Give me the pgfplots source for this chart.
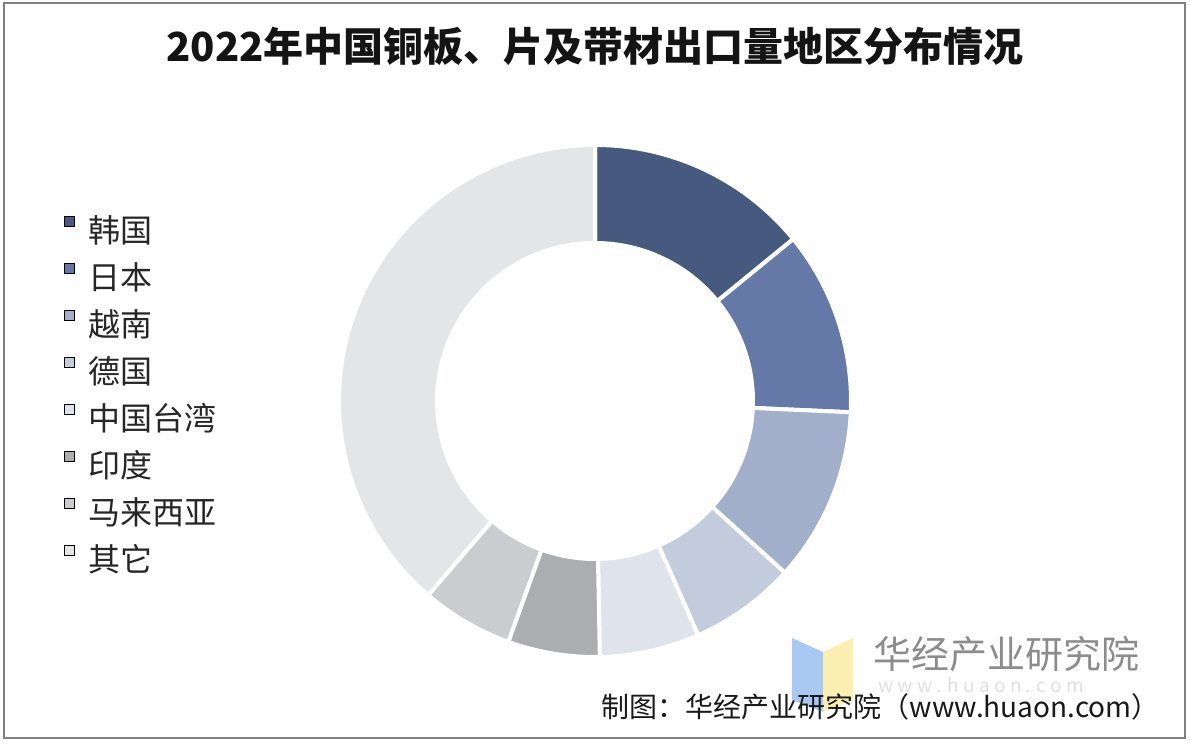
\documentclass[border=0pt]{standalone}
\usepackage{fontspec}
\setmainfont{Noto Sans CJK SC}
\usepackage{pgfplots}
\usepackage{pgfplotstable}
\pgfplotsset{compat=1.18}

\definecolor{cKR}{HTML}{465A80}
\definecolor{cJP}{HTML}{6479A7}
\definecolor{cVN}{HTML}{A2AFCB}
\definecolor{cDE}{HTML}{C3CCDD}
\definecolor{cTW}{HTML}{DFE3EB}
\definecolor{cIN}{HTML}{ABADB1}
\definecolor{cMY}{HTML}{CACCD0}
\definecolor{cOT}{HTML}{E3E5E7}
\definecolor{frame}{HTML}{808080}
\definecolor{logoblue}{HTML}{A9C8F2}
\definecolor{logoyellow}{HTML}{FCF0B0}

% share of export volume, %, read off the ring
\pgfplotstableread{
region share colour
韩国 14.1 cKR
日本 11.6 cJP
越南 11.0 cVN
德国 6.7 cDE
中国台湾 6.3 cTW
印度 5.8 cIN
马来西亚 5.8 cMY
其它 38.7 cOT
}\sharetable

\begin{document}
\begin{tikzpicture}
% build the ring segments and legend entries from the table
\gdef\donut{}%
\gdef\legendlist{}%
\gdef\cum{0}%
\pgfplotstablegetrowsof{\sharetable}%
\pgfmathtruncatemacro\lastrow{\pgfplotsretval-1}%
\pgfplotsforeachungrouped \i in {0,...,\lastrow}{%
  \pgfplotstablegetelem{\i}{share}\of\sharetable
  \pgfmathsetmacro\sa{90-3.6*\cum}%
  \pgfmathsetmacro\newcum{\cum+\pgfplotsretval}%
  \pgfmathsetmacro\sb{90-3.6*\newcum}%
  \xdef\cum{\newcum}%
  \pgfplotstablegetelem{\i}{colour}\of\sharetable
  \let\segcol\pgfplotsretval
  \pgfplotstablegetelem{\i}{region}\of\sharetable
  \let\segname\pgfplotsretval
  \xdef\donut{\unexpanded\expandafter{\donut}%
    \noexpand\fill[\segcol, draw=white, line width=2pt]
      ([shift={(\sa:128pt)}]axis cs:595,347)
      arc[start angle=\sa, end angle=\sb, radius=128pt]
      -- ([shift={(\sb:79pt)}]axis cs:595,347)
      arc[start angle=\sb, end angle=\sa, radius=79pt] -- cycle;}%
  \xdef\legendlist{\unexpanded\expandafter{\legendlist}%
    \noexpand\addlegendimage{fill=\segcol}%
    \noexpand\addlegendentry{\segname}}%
}%
\begin{axis}[
    x=0.5pt, y=0.5pt,
    xmin=0, xmax=1190, ymin=0, ymax=748,
    scale only axis,
    hide axis,
    clip=false,
    legend image code/.code={\fill (0pt,3.4pt) rectangle (5pt,8.4pt);},
    legend cell align=left,
    legend style={
        at={(axis cs:64,532)}, anchor=north west,
        draw=none, fill=none, inner sep=0pt,
        font=\fontsize{16}{19}\selectfont, text=black!85,
        row sep=7.6pt,
        nodes={inner sep=0pt, text height=11.6pt, text depth=3pt},
        /tikz/every odd column/.append style={column sep=6.5pt},
    },
]
\path (axis cs:0,0) rectangle (axis cs:1190,748);
\draw[frame, line width=0.8pt] (axis cs:4,745) rectangle (axis cs:1185,10);

\donut
\legendlist

% title
\node[font=\fontsize{20}{24}\selectfont\bfseries, text=black!92]
    at (axis cs:595,702) {2022年中国铜板、片及带材出口量地区分布情况};

% watermark
\fill[logoblue] (axis cs:792,110) -- (axis cs:823,96) -- (axis cs:823,36) -- (axis cs:792,48) -- cycle;
\fill[logoyellow] (axis cs:823,96) -- (axis cs:853,110) -- (axis cs:853,48) -- (axis cs:823,36) -- cycle;
\node[anchor=west, font=\fontsize{19}{22}\selectfont, text=black!45, inner sep=0pt]
    at (axis cs:873,94) {华经产业研究院};
\node[anchor=west, font=\fontsize{9.5}{11}\selectfont, text=black!12, inner sep=0pt]
    at (axis cs:878,63) {w w w . h u a o n . c o m};

% source line
\node[anchor=east, font=\fontsize{14}{17}\selectfont, text=black!90, inner sep=0pt]
    at (axis cs:1160,41) {制图：华经产业研究院（www.huaon.com）};
\end{axis}
\end{tikzpicture}
\end{document}
